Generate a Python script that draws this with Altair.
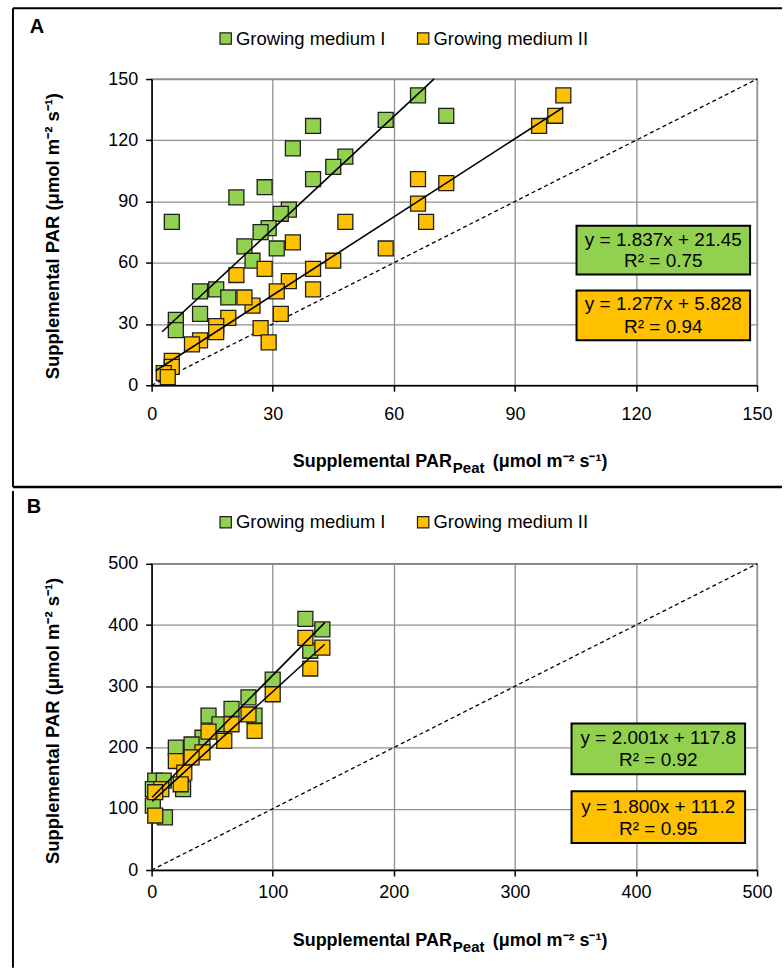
import altair as alt
import pandas as pd

FONT = "Liberation Sans"
SERIES = ["Growing medium I", "Growing medium II"]
COLORS = ["#92D050", "#FFC000"]

# ---------------- Panel A data ----------------
a_gm1_x = [5, 66, 73, 58, 40, 35, 48, 45, 40, 28, 21, 34, 32, 29, 27, 31, 23, 25, 12, 16, 19, 12, 6, 6]
a_gm1_y = [80, 142, 132, 130, 127, 116, 112, 107, 101, 97, 92, 86, 84, 77, 75, 67, 68, 61, 46, 47, 43, 35, 32, 27]
a_gm2_x = [102, 100, 96, 73, 66, 66, 68, 48, 58, 35, 45, 40, 40, 34, 31, 28, 21, 25, 23, 32, 27, 29, 19, 16, 16, 12, 10, 5, 5, 3, 4]
a_gm2_y = [142, 132, 127, 99, 101, 89, 80, 80, 67, 70, 61, 57, 47, 51, 46, 57, 54, 39, 43, 35, 28, 21, 33, 29, 26, 22, 20, 12, 9, 6, 4]
a_slope = [1.837, 1.277]
a_icpt = [21.45, 5.828]
a_fit_x0 = [2.6, 1.0]
a_fit_x1 = [70.0, 102.0]
a_eq = ["y = 1.837x + 21.45", "y = 1.277x + 5.828"]
a_r2 = ["R² = 0.75", "R² = 0.94"]
a_ticks = [0, 30, 60, 90, 120, 150]

# ---------------- Panel B data ----------------
b_gm1_x = [127, 141, 131, 100, 80, 85, 66, 47, 56, 42, 33, 20, 26, 3, 10, 1, 11, 1]
b_gm1_y = [410, 393, 358, 311, 282, 252, 263, 252, 238, 216, 205, 200, 132, 146, 146, 132, 86, 105]
b_gm2_x = [127, 141, 131, 100, 80, 85, 66, 60, 47, 42, 33, 20, 27, 24, 8, 3, 3]
b_gm2_y = [379, 363, 329, 287, 254, 227, 238, 211, 226, 192, 184, 178, 159, 140, 132, 127, 89]
b_slope = [2.001, 1.800]
b_icpt = [117.8, 111.2]
b_fit_x0 = [0.5, 0.5]
b_fit_x1 = [143.0, 143.0]
b_eq = ["y = 2.001x + 117.8", "y = 1.800x + 111.2"]
b_r2 = ["R² = 0.92", "R² = 0.95"]
b_ticks = [0, 100, 200, 300, 400, 500]

W, H = 607, 307
one = pd.DataFrame({"k": [0]})


def panel(letter, g1x, g1y, g2x, g2y, slope, icpt, fx0, fx1, eqs, r2s, ticks,
          box_x0, box_x1, box_y, line_y, legend_y, letter_x, letter_y, frame_top,
          frame_bottom, bottom_rule, x_label_pad, xt_y):
    rows = []
    for i, (xs, ys) in enumerate([(g1x, g1y), (g2x, g2y)]):
        for x, y in zip(xs, ys):
            rows.append({"x": x, "y": y, "series": SERIES[i], "idx": len(rows)})
    pts = pd.DataFrame(rows)

    fit_rows = []
    for i in range(2):
        for xv in (fx0[i], fx1[i]):
            fit_rows.append({"x": xv, "y": slope[i] * xv + icpt[i], "series": SERIES[i]})
    fit = pd.DataFrame(fit_rows)
    diag = pd.DataFrame({"x": [ticks[0], ticks[-1]], "y": [ticks[0], ticks[-1]]})

    axis_common = dict(values=ticks, title=None, grid=True, gridColor="#8f8f8f", gridWidth=1.3,
                       domainColor="black", domainWidth=1.5, tickColor="black", tickWidth=1.5,
                       tickSize=6, labelFont=FONT, labelFontSize=18, labelColor="black",
                       labelFlush=False)
    xenc = alt.X("x:Q", scale=alt.Scale(domain=[ticks[0], ticks[-1]], nice=False),
                 axis=alt.Axis(labelPadding=x_label_pad, **axis_common))
    yenc = alt.Y("y:Q", scale=alt.Scale(domain=[ticks[0], ticks[-1]], nice=False),
                 axis=alt.Axis(labelPadding=8, **axis_common))

    color = alt.Color("series:N", scale=alt.Scale(domain=SERIES, range=COLORS),
                      legend=alt.Legend(orient="none", legendX=65, legendY=legend_y,
                                        direction="horizontal", title=None,
                                        symbolType="square", symbolSize=130,
                                        symbolStrokeColor="#1e1e1e", symbolStrokeWidth=1.2,
                                        symbolOpacity=1, labelFont=FONT, labelFontSize=18.5,
                                        labelColor="black", labelOffset=1, columnPadding=28,
                                        padding=0))

    diag_layer = alt.Chart(diag).mark_line(color="black", strokeWidth=1.3,
                                           strokeDash=[4, 3]).encode(x=xenc, y=yenc)
    scatter = alt.Chart(pts).mark_square(size=225, opacity=1, stroke="#1e1e1e",
                                         strokeWidth=1.3).encode(
        x="x:Q", y="y:Q", color=color, order=alt.Order("idx:Q"))
    fit_layer = alt.Chart(fit).mark_line(color="black", strokeWidth=1.6).encode(
        x="x:Q", y="y:Q", detail="series:N")

    layers = [diag_layer, scatter, fit_layer]

    cx = (box_x0 + box_x1) / 2
    for i in range(2):
        layers.append(alt.Chart(one).mark_rect(fill=COLORS[i], stroke="black", strokeWidth=2).encode(
            x=alt.value(box_x0), x2=alt.value(box_x1),
            y=alt.value(box_y[i][0]), y2=alt.value(box_y[i][1])))
        txt = pd.DataFrame({"t": [eqs[i], r2s[i]], "n": [0, 1]})
        for n in range(2):
            layers.append(alt.Chart(txt).mark_text(
                font=FONT, fontSize=19, color="black", align="center", baseline="middle").encode(
                x=alt.value(cx), y=alt.value(line_y[i][n]), text="t:N"
            ).transform_filter(f"datum.n == {n}"))

    # axis titles
    layers.append(alt.Chart(pd.DataFrame({"t": ["Supplemental PAR (μmol m⁻² s⁻¹)"]})).mark_text(
        font=FONT, fontSize=18.5, fontWeight="bold", color="black", angle=270,
        align="center", baseline="middle").encode(
        x=alt.value(-99), y=alt.value(H / 2 + 4), text="t:N"))
    layers.append(alt.Chart(pd.DataFrame({"t": ["Supplemental PAR"]})).mark_text(
        font=FONT, fontSize=18, fontWeight="bold", color="black", align="right",
        baseline="middle").encode(x=alt.value(301), y=alt.value(xt_y), text="t:N"))
    layers.append(alt.Chart(pd.DataFrame({"t": ["Peat"]})).mark_text(
        font=FONT, fontSize=15, fontWeight="bold", color="black", align="left",
        baseline="middle").encode(x=alt.value(302), y=alt.value(xt_y + 6), text="t:N"))
    layers.append(alt.Chart(pd.DataFrame({"t": ["(μmol m⁻² s⁻¹)"]})).mark_text(
        font=FONT, fontSize=18, fontWeight="bold", color="black", align="left",
        baseline="middle").encode(x=alt.value(342), y=alt.value(xt_y), text="t:N"))

    # panel letter
    layers.append(alt.Chart(pd.DataFrame({"t": [letter]})).mark_text(
        font=FONT, fontSize=20, fontWeight="bold", color="black", align="center",
        baseline="middle").encode(x=alt.value(letter_x), y=alt.value(letter_y), text="t:N"))

    # frame
    layers.append(alt.Chart(one).mark_rule(color="black", strokeWidth=2).encode(
        x=alt.value(-139), y=alt.value(frame_top), y2=alt.value(frame_bottom)))
    if letter == "A":
        layers.append(alt.Chart(one).mark_rule(color="black", strokeWidth=2).encode(
            x=alt.value(-139), x2=alt.value(632), y=alt.value(frame_top)))
    if bottom_rule is not None:
        layers.append(alt.Chart(one).mark_rule(color="black", strokeWidth=2.5).encode(
            x=alt.value(-139), x2=alt.value(632), y=alt.value(bottom_rule)))

    return alt.layer(*layers).properties(width=W, height=H)


chart_a = panel("A", a_gm1_x, a_gm1_y, a_gm2_x, a_gm2_y, a_slope, a_icpt, a_fit_x0, a_fit_x1,
                a_eq, a_r2, a_ticks,
                box_x0=426, box_x1=600, box_y=[(147, 196), (212, 262)],
                line_y=[(161, 182), (226, 249)], legend_y=-50, letter_x=-115, letter_y=-52,
                frame_top=-71, frame_bottom=409, bottom_rule=409, x_label_pad=14, xt_y=384)
chart_b = panel("B", b_gm1_x, b_gm1_y, b_gm2_x, b_gm2_y, b_slope, b_icpt, b_fit_x0, b_fit_x1,
                b_eq, b_r2, b_ticks,
                box_x0=421, box_x1=595, box_y=[(160, 211), (228, 280)],
                line_y=[(175, 197), (244, 266)], legend_y=-51, letter_x=-118, letter_y=-57,
                frame_top=-73, frame_bottom=405, bottom_rule=None, x_label_pad=8, xt_y=378)

chart = alt.vconcat(chart_a, chart_b, spacing=0).resolve_scale(
    color="independent", x="independent", y="independent"
).resolve_legend(color="independent").properties(
    padding={"left": 11, "top": 5, "right": 0, "bottom": 0},
    background="white"
).configure_view(stroke="#555555", strokeWidth=1.3)

chart.save("out.html", embed_options={"renderer": "svg", "actions": False})
